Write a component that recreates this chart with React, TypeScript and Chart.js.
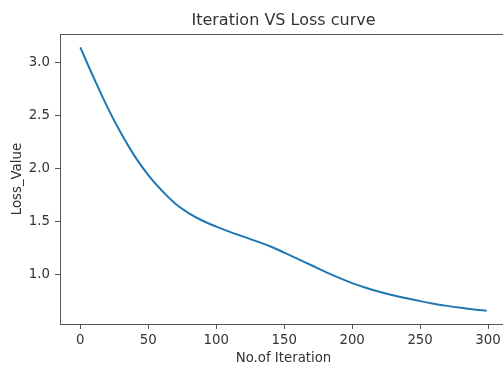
import React, { useEffect, useRef } from "react";
import { Chart, registerables } from "chart.js";

Chart.register(...registerables);

const iterations = [0, 10, 20, 30, 40, 50, 60, 70, 80, 90, 100, 110, 120, 130, 140, 150, 160, 170, 180, 190, 200, 210, 220, 230, 240, 250, 260, 270, 280, 290, 299];
const lossValues = [3.14, 2.85, 2.575, 2.33, 2.115, 1.935, 1.79, 1.665, 1.575, 1.505, 1.45, 1.4, 1.355, 1.31, 1.262, 1.205, 1.145, 1.085, 1.025, 0.968, 0.917, 0.873, 0.835, 0.802, 0.773, 0.747, 0.723, 0.702, 0.684, 0.668, 0.656];
const xTicks = [0, 50, 100, 150, 200, 250, 300];
const yTicks = [1.0, 1.5, 2.0, 2.5, 3.0];

const titleText = "Iteration VS Loss curve";
const xTitle = "No.of Iteration";
const yTitle = "Loss_Value";

const TEXT = "#333333";
const SPINE = "#555555";
const FONT = "'DejaVu Sans', sans-serif";

const boxPlugin = {
  id: "boxPlugin",
  afterDatasetsDraw(chart: any) {
    const { ctx, chartArea } = chart;
    ctx.save();
    ctx.strokeStyle = SPINE;
    ctx.lineWidth = 1;
    ctx.strokeRect(
      Math.round(chartArea.left) + 0.5,
      Math.round(chartArea.top) + 0.5,
      Math.round(chartArea.right - chartArea.left),
      Math.round(chartArea.bottom - chartArea.top)
    );
    ctx.restore();
  },
};

export default function App() {
  const ref = useRef<HTMLCanvasElement | null>(null);

  useEffect(() => {
    if (!ref.current) return;
    Chart.defaults.font.family = FONT;
    const data = iterations.map((x, i) => ({ x, y: lossValues[i] }));
    const chart = new Chart(ref.current, {
      type: "line",
      data: {
        datasets: [
          {
            data,
            borderColor: "#1f77b4",
            borderWidth: 2,
            pointRadius: 0,
            tension: 0.4,
            fill: false,
          },
        ],
      },
      options: {
        animation: false,
        responsive: false,
        devicePixelRatio: 1,
        layout: { padding: { top: 0, right: 8, left: 0, bottom: 0 } },
        plugins: {
          legend: { display: false },
          tooltip: { enabled: false },
          title: {
            display: true,
            text: titleText,
            fullSize: false,
            color: TEXT,
            font: { size: 16, weight: "normal", family: FONT },
            padding: { top: 11, bottom: 4 },
          },
        },
        scales: {
          x: {
            type: "linear",
            min: -14.95,
            max: 313.95,
            afterBuildTicks: (s: any) => {
              s.ticks = xTicks.map((v) => ({ value: v }));
            },
            afterFit: (s: any) => {
              s.height = 41;
            },
            ticks: {
              color: TEXT,
              font: { size: 13.3, family: FONT },
              padding: 4,
              maxRotation: 0,
              callback: (v: any) => String(v),
            },
            grid: {
              display: true,
              drawOnChartArea: false,
              drawTicks: true,
              tickLength: 5,
              color: SPINE,
            },
            border: { display: true, color: SPINE, width: 1 },
            title: {
              display: true,
              text: xTitle,
              color: TEXT,
              font: { size: 13.3, family: FONT, lineHeight: 1 },
              padding: { top: 0, bottom: 0 },
            },
          },
          y: {
            type: "linear",
            min: 0.531,
            max: 3.265,
            afterBuildTicks: (s: any) => {
              s.ticks = yTicks.map((v) => ({ value: v }));
            },
            afterFit: (s: any) => {
              s.width = 60;
            },
            ticks: {
              color: TEXT,
              font: { size: 13.3, family: FONT },
              padding: 5,
              callback: (v: any) => Number(v).toFixed(1),
            },
            grid: {
              display: true,
              drawOnChartArea: false,
              drawTicks: true,
              tickLength: 5,
              color: SPINE,
            },
            border: { display: true, color: SPINE, width: 1 },
            title: {
              display: true,
              text: yTitle,
              color: TEXT,
              font: { size: 13.3, family: FONT, lineHeight: 1 },
              padding: { top: 11, bottom: 0 },
            },
          },
        },
      },
      plugins: [boxPlugin],
    } as any);
    return () => chart.destroy();
  }, []);

  return (
    <div
      style={{
        position: "fixed",
        left: 0,
        top: 0,
        width: 503,
        height: 365,
        overflow: "hidden",
        background: "#ffffff",
      }}
    >
      <canvas ref={ref} width={515} height={365} style={{ display: "block", width: 515, height: 365 }} />
    </div>
  );
}
